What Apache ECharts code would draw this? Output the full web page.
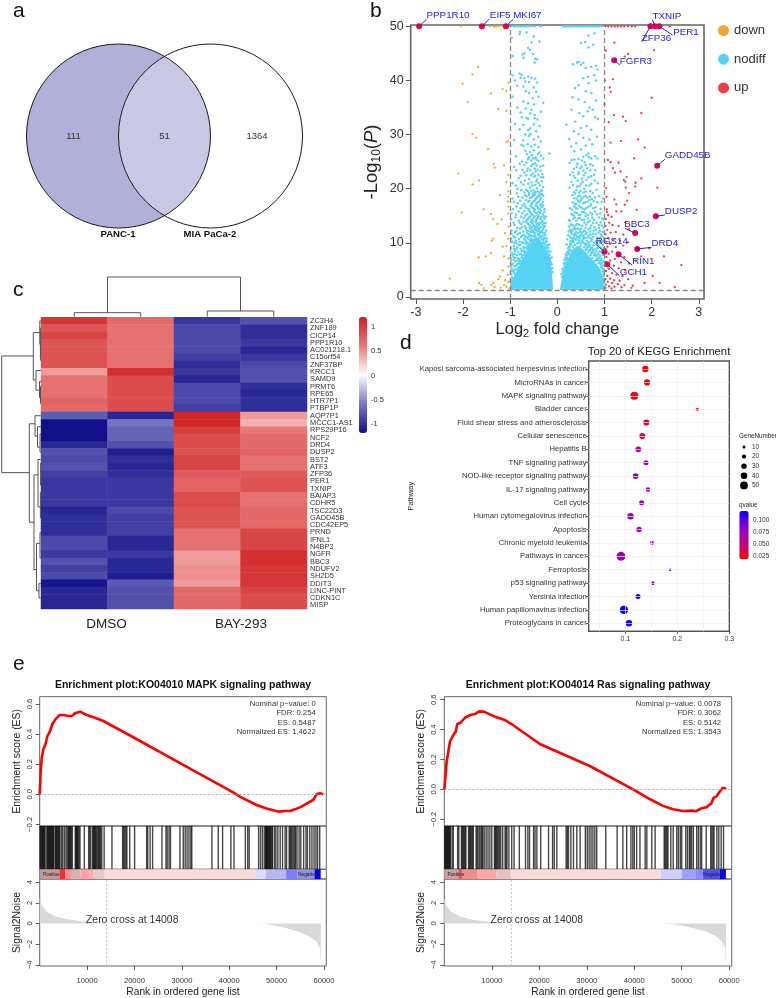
<!DOCTYPE html>
<html><head><meta charset="utf-8">
<style>html,body{margin:0;padding:0;background:#fff}#c{width:776px;height:998px}</style>
<script src="https://cdn.jsdelivr.net/npm/echarts@6/dist/echarts.min.js"></script>
</head><body><div id="c"></div>
<script>
// ---------- panel a
const vennSets=['PANC-1','MIA PaCa-2'];
const vennCounts=[111,51,1364];
// ---------- panel b
const downPoints=[[-2.05,50],[-1.43,50],[-1.35,50],[-1.3,50],[-1.25,50],[-1.15,50],[-1.68,42.5],[-1.8,41.1],[-2.01,39.4],[-1.04,39.6],[-1.16,38.4],[-1.08,38],[-1.41,37.6],[-1.9,36],[-1.25,34.7],[-1.08,34.4],[-1.8,30.1],[-1.72,29.4],[-1.04,28.8],[-1.08,28.6],[-1.47,27.3],[-1.35,24.6],[-1.33,23.9],[-1.13,24.3],[-2.1,22.8],[-1.66,21.5],[-1.8,20.8],[-1.04,22.5],[-1.08,21.2],[-1.04,19.5],[-1.22,18.8],[-1.04,18.5],[-1.05,17.6],[-1.04,16.7],[-1.56,16.2],[-2.03,15.6],[-1.41,15.3],[-1.36,14.4],[-1.04,15.4],[-1.18,14.3],[-1.27,13.5],[-1.04,13],[-1.11,11.8],[-1.36,10.8],[-1.39,10.4],[-1.04,10.8],[-1.16,9.3],[-1.08,9.4],[-1.41,8.1],[-1.52,7.5],[-1.67,7.3],[-1.13,7.5],[-1.04,7.1],[-1.16,4.9],[-1.22,3.8],[-1.04,5.6],[-2.28,3.4],[-1.25,3.3],[-1.36,2.6],[-1.66,2.6],[-1.61,2.2],[-1.4,2.2],[-1.33,1.8],[-1.13,2.2],[-1.08,1.9],[-1.56,1.6],[-1.04,2.8],[-1.11,3.1],[-1.02,1.6],[-1.2,1.7],[-1.05,4.1]];
const upPoints=[[1.02,50],[1.08,50],[1.15,50],[1.22,50],[1.28,50],[1.35,50],[1.42,50],[1.5,50],[1.58,50],[1.65,50],[2.38,50],[1.21,47],[1.03,45.5],[1.5,44.9],[1.43,44.4],[2.05,45.6],[1.01,40],[1.18,40.2],[1.11,38.7],[1.13,37.9],[2,36.8],[1,35.6],[1.2,33.6],[1.39,33.3],[1.78,34],[1.45,32.5],[1.09,32.3],[1.71,29.1],[1.13,28.5],[1.35,28.8],[1.85,27.6],[1.63,25.6],[1.07,25.3],[1.13,24.9],[1.3,24.8],[1.18,23.8],[1.22,23],[1.34,23.2],[1.47,22.2],[1.41,21.6],[1.44,21.3],[1.78,21.9],[1.66,21.1],[1.65,20.4],[2.12,20.2],[1.45,20.2],[1.03,20.1],[1.04,18.5],[1.52,19.2],[1.21,18],[1.48,17.8],[1.43,17],[1.05,16.2],[1.25,17.1],[1.08,15.1],[1.68,16.1],[1.15,14.8],[1.25,15.8],[1.36,15.8],[1.05,15.7],[1.03,14.4],[1.1,13.7],[1.02,13.1],[1.17,13.3],[1.3,13.1],[1.44,13.8],[1.06,12.4],[1.13,11.9],[1.02,11.6],[1.24,12],[1.4,11.5],[1.52,12.6],[1.08,10.9],[1.19,10.6],[1.03,10.2],[1.33,10.4],[1.5,10.1],[1.12,9.8],[1.06,9.3],[1.24,9.2],[1.4,9.5],[1.02,8.9],[1.16,8.4],[1.09,8],[1.42,7.4],[1.04,7.4],[1.22,7],[1.12,6.7],[1.35,6.4],[1.52,6.2],[1.02,6.5],[1.2,5.8],[1.09,5.2],[1.3,5.3],[1.44,4.9],[1.03,4.8],[1.16,4.4],[1.25,4.1],[1.38,3.9],[1.06,3.9],[1.12,3.4],[1.02,3.3],[1.2,3.1],[1.32,3],[1.5,3.3],[1.07,2.8],[1.16,2.6],[1.28,2.4],[1.42,2.2],[1.03,2.3],[1.1,2],[1.21,1.9],[1.36,1.8],[1.02,1.7],[1.15,1.6],[1.6,2.1],[1.57,1.7],[1.78,7.5],[1.95,9],[2.26,7.5],[2.63,5.9],[2.02,3.9],[2.17,2.6],[2.49,1.8],[1.66,6.7],[1.85,2.6]];
const nodiffTop=[[-.98,50],[-.92,50],[-.87,50],[-.82,50],[-.76,50],[-.71,50],[-.66,50],[-.6,50],[-.55,50],[-.48,50],[-.36,50],[.13,50],[.16,50],[.2,50],[.25,50],[.3,50],[.35,50],[.41,50],[.46,50],[.5,50],[.54,50],[.58,50],[.62,50],[.66,50],[.7,50],[.74,50],[.78,50],[.82,50],[.86,50],[.9,50],[.95,50],
[-.79,49],[-.65,48.9],[-.5,48.1],[-.97,47.9],[-.8,48.6],[-.38,47.2],[-.55,47],[-.62,46],[-.58,45.6],[-.7,45],[-.74,44.8],[-.52,44.9],[-.95,44.5],[-.72,44.2],[-.47,44],[-.43,43.9],[-.48,43.3],
[-.8,41.3],[-.76,41],[-.62,40.7],[-.95,40.9],[-.78,40.5],[-.7,40.4],[-.55,40.5],[-.47,40.3],[-.9,40],[-.68,39.8],[-.6,39.7],[-.43,39.6],[-.85,39],[-.72,38.9],[-.5,38.7],[-.67,38],[-.6,37.7],[-.45,37.9],[-.95,37],[-.52,36.7],[-.4,37],[-.72,36.1],[-.62,35.8],[-.5,35.6],[-.3,35.9],[-.85,35],[-.67,34.8],[-.55,34.6],[-.78,34.1],[-.58,33.9],[-.48,33.6],[-.35,34.2],[-.75,33.2],[-.65,33.1],[-.62,32.9],[-.48,33],[-.42,32.8],[-.9,32],[-.72,31.8],[-.5,31.9],[-.38,31.6],[-.8,31],[-.62,30.8],[-.58,31.1],[-.45,30.6],[-.68,30],[-.6,29.8],[-.57,30.1],[-.4,29.6],[-.92,29],[-.72,28.9],[-.5,29.1],[-.35,28.7],[-.76,28.1],[-.72,27.9],[-.63,28.2],[-.55,27.8],[-.48,28.1],[-.4,27.7],[-.68,27],[-.58,26.8],[-.5,27.1],[-.38,26.7],[-.17,26.5],[-.88,26],[-.6,25.8],[-.54,26.2],[-.46,25.7],[-.35,26.1],[-.3,25.6],[-.75,25],[-.66,24.8],[-.55,25.2],[-.47,24.7],[-.4,25.1],[-.92,24],[-.62,23.8],[-.56,24.2],[-.48,23.7],[-.36,24.1],[-.7,23],[-.52,22.8],[-.46,23.2],[-.32,22.7],[-.82,22],[-.6,21.8],[-.5,22.2],[-.43,21.7],[-.3,22.1],[-.95,21],[-.72,20.8],[-.55,21.2],[-.47,20.7],[-.4,21.1],[-.85,20],[-.66,19.8],[-.58,20.2],[-.5,19.7],[-.43,20.1],[-.35,19.6],[-.3,20.3],
[.79,48.7],[.66,48.3],[.59,47.1],[.5,46.9],[.76,46.6],[.66,46.1],[.45,43.4],[.42,43.3],[.55,43.2],[.33,43],[.5,42.9],[.6,42.3],[.72,42.5],[.82,42.7],[.85,42],[.78,41],[.65,40.7],[.55,40.4],[.82,40],[.66,39.5],[.45,39.1],[.38,38.6],[.6,38],[.72,37.7],[.32,36.9],[.45,36.5],[.58,36],[.82,36.3],[.68,35],[.64,34.3],[.75,34.6],[.47,34],[.3,34.6],[.55,33.4],[.8,33.2],[.86,32.9],[.19,31.8],[.38,32.4],[.5,31.2],[.62,31.6],[.72,30.9],[.45,30.1],[.35,30.6],[.55,29.4],[.25,29.2],[.68,29.1],[.84,29.6],[.4,28.4],[.6,28],[.29,27.8],[.74,28.2],[.5,27.3],[.36,26.9],[.62,26.2],[.55,25.9],[.67,25.8],[.72,25.6],[.45,25.5],[.3,25.3],[.85,25.6],[.58,24.9],[.42,24.6],[.7,24.5],[.26,24.8],[.52,24.1],[.35,23.7],[.63,23.8],[.8,23.4],[.46,23],[.27,22.6],[.56,22.5],[.72,22.3],[.38,22],[.62,21.6],[.3,21.3],[.5,20.9],[.86,21],[.42,20.4],[.68,20.6],[.26,20.2],[.57,20]];
const nodiffMid=[[-.98,4.2],[-.93,4.6],[-.88,3.9],[-.97,5.3],[-.91,5.7],[-.86,5.1],[-.95,6.2],[-.89,6.6],[-.84,6.1],[-.8,6.9],[-.99,7.1],[-.93,7.4],[-.86,7.7],[-.76,7.3],[-.71,7.8],[-.97,8.2],[-.9,8.5],[-.83,8.3],[-.74,8.6],[-.69,8.2],[-.98,9.1],[-.92,9.4],[-.85,9.2],[-.79,9.6],[-.72,9.3],[-.67,9.8],[-.62,9.4],[-.96,10.2],[-.88,10.4],[-.81,10.7],[-.75,10.1],[-.68,10.5],[-.63,10.9],[-.58,10.3],[-.93,11.2],[-.84,11.6],[-.77,11.1],[-.71,11.5],[-.66,11.2],[-.6,11.6],[-.56,11.3],[-.51,11.9],[-.38,11.7],[-.33,11.2],[-.28,10.9],[-.25,10.1],[-.22,9.4],[-.19,8.6],[-.17,7.7],[-.16,6.9],[-.14,6.3],[-.2,7.4],
[-.97,12.3],[-.87,12.2],[-.79,12.6],[-.72,12.1],[-.67,12.7],[-.61,12.2],[-.56,12.5],[-.52,12.2],[-.47,12.7],[-.43,12.3],[-.39,12.6],[-.34,12.2],[-.3,12.5],[-.27,11.8],[-.91,13.3],[-.76,13.5],[-.69,13.1],[-.63,13.6],[-.58,13.2],[-.53,13.6],[-.49,13.1],[-.44,13.5],[-.4,13.2],[-.36,13.7],[-.31,13.3],[-.27,13.1],[-.98,14.3],[-.82,14.1],[-.71,14.6],[-.65,14.2],[-.6,14.7],[-.55,14.3],[-.5,14.6],[-.45,14.2],[-.41,14.7],[-.36,14.4],[-.32,14.1],[-.27,14.5],[-.88,15.2],[-.74,15.5],[-.64,15.3],[-.58,15.7],[-.53,15.2],[-.47,15.6],[-.42,15.1],[-.37,15.5],[-.31,15.3],[-.94,16.2],[-.78,16.4],[-.68,16.7],[-.6,16.2],[-.54,16.6],[-.48,16.2],[-.43,16.7],[-.38,16.3],[-.33,16.6],[-.27,16.2],[-.84,17.3],[-.7,17.2],[-.62,17.6],[-.55,17.2],[-.5,17.7],[-.44,17.3],[-.39,17.6],[-.34,17.2],[-.95,18.2],[-.74,18.4],[-.65,18.6],[-.57,18.3],[-.51,18.7],[-.45,18.2],[-.4,18.6],[-.35,18.3],[-.3,18.7],[-.86,19.1],[-.7,19.3],[-.6,19.2],[-.52,19.1],[-.46,19.4],[-.38,19.1],
[.13,4.9],[.16,6.1],[.19,6.9],[.24,8],[.27,8.7],[.29,9.7],[.34,10.1],[.38,10.6],[.3,10.9],[.27,9.9],[.23,9],[.21,7.7],[.46,10.4],[.5,9.9],[.58,9.8],[.62,8.9],[.67,8.6],[.72,8.1],[.78,7.7],[.82,6.8],[.88,6.3],[.92,6],[.96,5.2],[.98,6.6],[.93,7.1],[.85,7.6],[.97,7.8],[.9,8.4],[.8,8.8],[.74,9.1],[.98,9],[.87,9.5],[.68,9.7],[.78,10],[.95,10.3],[.62,10.4],[.55,10.7],[.7,10.9],[.85,11],[.44,11.1],[.35,11.4],[.27,11.1],[.5,11.5],[.6,11.6],[.75,11.7],[.92,11.6],[.4,12],[.32,12.3],[.24,12.1],[.47,12.4],[.56,12.2],[.66,12.5],[.82,12.4],[.98,12.8],[.37,13],[.29,13.4],[.43,13.5],[.53,13.1],[.61,13.4],[.72,13.2],[.88,13.3],[.25,14.2],[.34,14.4],[.4,14.1],[.48,14.6],[.57,14.3],[.65,14.5],[.78,14.2],[.95,14.5],[.3,15.3],[.37,15.6],[.45,15.2],[.52,15.7],[.6,15.4],[.7,15.6],[.84,15.3],[.27,16.4],[.36,16.7],[.42,16.3],[.5,16.6],[.58,16.2],[.66,16.7],[.76,16.4],[.92,16.3],[.33,17.5],[.4,17.2],[.47,17.6],[.55,17.3],[.64,17.6],[.71,17.2],[.85,17.5],[.36,18.2],[.44,18.6],[.38,19.1],[.52,18.3],[.6,18.7],[.46,19.3],[.69,18.5],[.8,18.4],[.32,18.8],[.4,19.7],[.56,19.3],[.75,19.2],[.98,18.2],
[-.99,2.9],[.98,4.3],[.95,3.7],[-.95,3.3]];
const nodiffFringe=[[-.96,3.6],[-.92,3.2],[-.9,4.3],[-.85,4.4],[-.83,4.9],[-.94,4.9],[-.9,5.1],[-.82,5.5],[-.87,5.8],[-.78,5.9],[-.75,6.4],[-.82,6.5],[-.78,6.7],[-.72,6.8],[-.7,7.2],[-.75,7.6],[-.66,7.9],[-.8,7.9],[-.68,8.5],[-.64,8.9],[-.71,9],[-.6,9.1],[-.58,9.7],[-.65,10.1],[-.54,10.5],[-.61,10.7],[-.52,11.2],[-.48,11.5],[-.92,8.9],[-.87,8.8],[-.78,8.9],[-.95,7.8],[-.89,7.2],[-.83,7.1],[-.77,8],[-.98,6.7],[-.93,6.9],[-.97,5.9],[-.99,4.8],[-.87,9.9],[-.91,10],[-.8,10.2],[-.72,10],[-.98,10.8],[-.9,11],[-.74,11.3],[-.68,11.1],[-.8,11.8],[-.9,11.9],[-.97,11.7],[-.64,11.8],[-.56,12],[-.47,11.9],
[-.36,11.2],[-.3,10.5],[-.27,9.7],[-.24,9],[-.21,8.2],[-.18,7.9],[-.16,7.2],[-.15,6.5],[-.12,6],[-.11,5.3],[-.1,4.6],[-.42,12.1],[-.38,12.3],[-.32,11.9],[-.29,11.5],[-.26,10.8],[-.23,10.3],[-.21,9.6],[-.19,9.1],
[-.85,12.8],[-.75,12.9],[-.65,12.3],[-.59,12.8],[-.54,12.9],[-.5,12.4],[-.45,13],[-.41,12.8],[-.35,12.9],[-.29,12.9],[-.24,12.3],[-.93,13.7],[-.8,13.7],[-.72,13.9],[-.66,13.9],[-.61,13.4],[-.56,13.9],[-.51,13.3],[-.46,13.9],[-.42,13.6],[-.38,13.4],[-.33,13.8],[-.29,13.7],[-.25,13.6],[-.89,14.7],[-.77,14.8],[-.68,15],[-.62,14.4],[-.57,14.9],[-.52,14.1],[-.48,14.9],[-.43,14.5],[-.39,14.9],[-.34,14.8],[-.29,14.9],[-.24,14.8],[-.97,15.5],[-.82,15.8],[-.7,15.9],[-.61,15.9],[-.56,15.4],[-.5,15.9],[-.45,15.5],[-.4,15.8],[-.35,15.9],[-.28,15.7],[-.87,16.7],[-.74,16.9],[-.65,16.4],[-.57,16.9],[-.51,16.4],[-.46,16.9],[-.41,16.4],[-.36,16.9],[-.3,16.9],[-.92,17.6],[-.79,17.8],[-.67,17.9],[-.59,17.8],[-.53,17.4],[-.47,17.9],[-.42,17.5],[-.37,17.9],[-.31,17.6],[-.83,18.5],[-.69,18.8],[-.6,18.9],[-.54,18.5],[-.48,18.9],[-.43,18.4],[-.37,18.8],[-.33,19],[-.77,19.7],[-.63,19.6],[-.55,19.6],[-.49,19.2],[-.41,19.5],[-.33,19.7],
[-.88,20.6],[-.77,21.2],[-.69,21.5],[-.62,20.9],[-.53,20.6],[-.45,21.4],[-.37,20.6],[-.33,21.4],[-.78,22.4],[-.66,22.5],[-.56,22.5],[-.47,22.4],[-.4,22.6],[-.35,22.1],[-.87,23.4],[-.74,23.5],[-.64,23.3],[-.57,23.4],[-.42,23.5],[-.35,23.3],[-.8,24.6],[-.7,24.4],[-.52,24.5],[-.44,24.3],[-.3,24.3],[-.62,25.5],[-.44,25.4],[-.51,25.6],[-.41,26.4],[-.64,26.4],
[.09,4.2],[.11,5.2],[.14,6.2],[.17,7.3],[.2,8.2],[.25,9.2],[.31,10.3],[.36,10.9],[.42,11.1],[.47,10.8],[.52,10.4],[.56,10],[.6,9.6],[.64,9.2],[.69,8.7],[.73,8.4],[.77,8.2],[.8,7.6],[.84,7.1],[.87,6.8],[.91,6.6],[.94,6.3],[.97,5.8],[.99,5.1],[.93,5.5],[.96,4.7],[.99,3.9],[.96,3.3],[.91,7.6],[.87,8],[.83,8.4],[.94,8.2],[.99,8.3],[.85,9],[.92,9.1],[.76,9.5],[.7,9.3],[.66,10.1],[.72,10.3],[.82,10.3],[.89,10.4],[.99,10.9],[.58,10.9],[.64,11],[.76,11.1],[.9,10.9],[.94,11.2],[.28,10.3],[.33,10.8],[.4,11.4],[.47,11.2],[.54,11.3],[.66,11.3],[.7,11.5],[.81,11.6],[.87,11.9],[.3,11.7],[.37,11.7],[.44,11.8],[.52,11.9],[.58,12.2],[.62,11.9],[.7,12.1],[.77,12.3],[.9,12.2],[.96,12],[.27,12.4],[.35,12.6],[.43,12.7],[.5,12.6],[.6,12.8],[.7,12.8],[.79,12.9],[.88,12.8],[.94,13.2],[.25,13],[.33,13.3],[.4,13.4],[.47,13.3],[.57,13.7],[.65,13.8],[.76,13.6],[.83,13.7],[.92,13.8],[.27,14],[.37,14.7],[.44,14.5],[.52,14.2],[.6,14.9],[.69,14.1],[.74,14.7],[.88,14.7],[.98,14.2],[.34,15.1],[.41,15.5],[.49,15.2],[.56,15.7],[.65,15.2],[.74,15.3],[.8,15.8],[.91,15.4],[.31,16.1],[.39,16.5],[.46,16.8],[.54,16.3],[.62,16.5],[.71,16.9],[.81,16.6],[.37,17.2],[.44,17.8],[.5,17.9],[.59,17.5],[.68,17.9],[.77,17.7],[.94,17.6],[.41,18.2],[.48,18.7],[.56,18.5],[.64,18.4],[.73,18.1],[.88,18.6],[.35,19.4],[.49,19.6],[.6,19.5],[.7,19.6],[.83,19.8],
[.33,20.7],[.47,20.5],[.54,21.3],[.61,20.6],[.72,20.9],[.8,21.5],[.43,21.5],[.35,22.4],[.52,21.9],[.66,22.1],[.44,22.7],[.6,22.9],[.78,22.6],[.32,23],[.55,23.3],[.7,23.4],[.41,24],[.48,23.8],[.6,24.4],[.75,24.3],[.52,25.2],[.36,25.4],[.8,26],[.66,26.5]];
const nodiffEdge=[[-.94,3],[-.89,3.7],[-.86,4.2],[-.8,5.2],[-.76,5.6],[-.79,6.2],[-.73,6.1],[-.69,6.7],[-.66,7.4],[-.63,8.1],[-.61,8.6],[-.57,9.2],[-.55,9.9],[-.5,10.6],[-.47,11.1],[-.41,11.6],[-.38,10.9],[-.33,10.7],[-.3,10],[-.27,9.2],[-.24,8.5],[-.21,7.8],[-.18,7.1],[-.15,5.9],[-.84,6.9],[-.74,7.1],[-.69,7.6],[-.71,8.4],[-.66,9.2],[-.62,9.9],[-.56,10.7],[-.59,11.2],[-.45,12.4],[-.41,11.4],[-.37,11.8],[-.33,12.2],[-.26,11.4],[-.22,10.8],[-.17,9.7],[-.15,8.4],[-.12,7.3],[-.91,8],[-.82,9.6],[-.76,8.5],[-.7,10.7],
[.96,2.9],[.93,3.9],[.89,4.9],[.86,5.5],[.82,6],[.78,6.6],[.74,7.2],[.7,7.7],[.65,8.2],[.6,8.7],[.57,9.2],[.49,9.4],[.42,9.9],[.37,9.6],[.33,9.3],[.29,8.5],[.25,8.1],[.21,7.2],[.18,6.4],[.15,5.6],[.12,4.6],[.1,3.7],[.94,6.9],[.88,7.2],[.81,7.9],[.76,8.7],[.71,8.9],[.66,9.4],[.62,9.9],[.54,10.2],[.46,10],[.41,10.6],[.33,10.4],[.26,9.4],[.23,8.5],[.18,7.8],[.15,6.9],[.97,9.6],[.91,10],[.84,9.9],[.73,10.6],[.56,11.1],[.49,12],[.38,12.5],[.29,12],[.23,11.4],[.21,10.6],[.2,9.7]];
const nodiffDenseLeft=[[-1,1.3],[-.09,1.3],[-.12,5.2],[-.23,8.3],[-.33,10.2],[-.44,11.2],[-.55,10.2],[-.65,8.4],[-.83,5.2],[-.97,2.9],[-1,2.4]];
const nodiffDenseRight=[[.05,1.3],[1,1.3],[1,2.9],[.9,5.2],[.725,7],[.54,8.8],[.43,9.5],[.33,8.8],[.22,7],[.144,5.2],[.09,3.1]];
const geneNames=['PPP1R10','EIF5','MKI67','TXNIP','ZFP36','PER1','FGFR3','GADD45B','DUSP2','BBC3','RGS14','DRD4','RIN1','GCH1'];
const geneLog2FC=[-2.93,-1.6,-1.09,2.07,1.975,2.16,1.205,2.117,2.088,1.65,1,1.693,1.297,1.057];
const geneLogP=[50,50,50,50,50,50,43.72,24.26,14.9,11.82,8.37,8.87,7.88,6.03];
// ---------- panel c
const heatGenes=['ZC3H4','ZNF189','CICP14','PPP1R10','AC021218.1','C15orf54','ZNF37BP','KRCC1','SAMD9','PRMT6','RPE65','HTR7P1','PTBP1P','AQP7P1','MCCC1-AS1','RPS29P16','NCF2','DRD4','DUSP2','BST2','ATF3','ZFP36','PER1','TXNIP','BAIAP3','CDHR5','TSC22D3','GADD45B','CDC42EP5','PRND','IFNL1','N4BP3','NGFR','BBC3','NDUFV2','SH2D5','DDIT3','LINC-PINT','CDKN1C','MISP'];
const heatSamples=['DMSO-1','DMSO-2','BAY-1','BAY-2'];
const heatValues=[[1.05,.7,-.95,-.8],[.85,.65,-.85,-1],[.95,.65,-.85,-1],[.85,.65,-.85,-.95],[.85,.65,-.85,-1.05],[.85,.65,-.9,-.95],[.85,.65,-1,-.85],[.45,1.1,-.95,-.8],[.65,.9,-1.05,-.8],[.65,.9,-.85,-1],[.65,.9,-.85,-1.05],[.75,.9,-.85,-1],[.7,.9,-.9,-1],[-.75,-1.05,1.15,.45],[-1.2,-.6,1.15,.35],[-1.2,-.7,1,.6],[-1.2,-.7,.9,.7],[-1.05,-.8,.9,.7],[-.8,-1.1,.85,.75],[-.85,-1,.95,.65],[-.8,-1.05,.95,.65],[-.9,-1,.8,.8],[-.95,-.95,.75,.85],[-.95,-.95,.75,.85],[-.95,-.95,.9,.65],[-.95,-.95,.9,.65],[-1.05,-.85,.85,.7],[-1,-.9,.85,.7],[-1,-.9,.85,.7],[-1,-.9,.65,.95],[-.85,-1.05,.65,.95],[-.85,-1.05,.65,.95],[-.95,-.95,.45,1.1],[-.8,-1.05,.45,1.1],[-.9,-1.05,.5,1.05],[-.85,-1.1,.5,1.05],[-1.15,-.75,.45,1.05],[-1.05,-.8,.7,.95],[-1.05,-.8,.7,.9],[-1.05,-.8,.7,.9]];
// merges: [height, branch a, branch b, height of a's child, height of b's child]
const colMerges=[[40,1,3,4.3,6],[4.3,.5,1.5,.3,.3],[6,2.5,3.5,.3,.3]];
const rowMerges=[[39.3,5.3,21.3,7.7,11.7],[7.7,2.1,8.6,1.2,5],[1.2,.5,3.7,.1,.6],[.6,1.5,5.9,.1,.3],[.3,3,5.5,.1,.1],[5,7.3,10,.1,1.5],[1.5,8.8,11,.1,.5],[.5,9.5,11.8,.1,.1],[11.7,14.6,28.1,6,7],[6,13.5,16.3,.2,3.5],[3.5,15,17.8,.2,1],[1,16,18.5,.1,.1],[7,21.6,34.6,3,4.5],[3,19.5,26,.4,.6],[.6,24,27.5,.1,.1],[.4,20,23,.1,.1],[4.5,31,37.5,1,2],[2,36.5,38.5,.2,.2],[1,29.5,33,.2,.2]];
// ---------- panel d
const pathways=['Kaposi sarcoma-associated herpesvirus infection','MicroRNAs in cancer','MAPK signaling pathway','Bladder cancer','Fluid shear stress and atherosclerosis','Cellular senescence','Hepatitis B','TNF signaling pathway','NOD-like receptor signaling pathway','IL-17 signaling pathway','Cell cycle','Human cytomegalovirus infection','Apoptosis','Chronic myeloid leukemia','Pathways in cancer','Ferroptosis','p53 signaling pathway','Yersinia infection','Human papillomavirus infection','Proteoglycans in cancer'];
const richFactor=[.1385,.1417,.1173,.2385,.1404,.1327,.125,.1397,.1199,.1436,.1314,.11,.1263,.1513,.0917,.1859,.1526,.1244,.0974,.107];
const geneNumber=[39,37,52,10,35,35,33,27,33,22,27,39,31,18,60,6,18,27,52,39];
const qValue=[.018,.02,.02,.02,.03,.035,.065,.07,.07,.07,.07,.075,.07,.08,.075,.085,.09,.115,.12,.12];
const geneLegend=[10,20,30,40,50];
// ---------- panel e
const mapkTitle='Enrichment plot:KO04010 MAPK signaling pathway';
const rasTitle='Enrichment plot:KO04014 Ras signaling pathway';
const mapkStats=['Nominal p\u2212value: 0','FDR: 0.254','ES: 0.5487','Normalized ES: 1.4622'];
const rasStats=['Nominal p\u2212value: 0.0078','FDR: 0.3062','ES: 0.5142','Normalized ES: 1.3543'];
const mapkES=[[0,0],[140,.117],[420,.239],[770,.3],[1270,.339],[1620,.387],[2180,.42],[2670,.467],[3230,.494],[4150,.527],[4990,.527],[6050,.52],[6750,.52],[7450,.538],[8510,.549],[9910,.527],[11670,.509],[13430,.487],[19750,.379],[30300,.195],[40840,.013],[42250,-.015],[45770,-.071],[47880,-.095],[50330,-.115],[51740,-.111],[52800,-.111],[53850,-.1],[55260,-.082],[56660,-.055],[57720,-.038],[58420,0],[59120,.007],[59830,0]];
const rasES=[[0,0],[210,.073],[490,.185],[840,.25],[1190,.32],[1890,.363],[2380,.385],[2730,.437],[3430,.446],[4350,.479],[5400,.497],[6450,.504],[7360,.522],[8340,.52],[9600,.502],[11000,.482],[12760,.464],[14160,.437],[20120,.303],[30630,.156],[39750,0],[43250,-.065],[46060,-.111],[48160,-.134],[50260,-.145],[52370,-.143],[52930,-.147],[54120,-.127],[55170,-.12],[56220,-.094],[56710,-.056],[57270,-.049],[57970,-.016],[58670,.011],[59380,.004]];
const mapkHits=[100,250,400,550,700,850,1000,1150,1500,1650,1800,1950,2100,2250,2400,2550,2700,2850,3000,3300,3450,3600,3750,3950,4100,4250,4570,4850,5200,5550,5800,6050,6200,6350,6500,6700,6900,7500,7650,7800,7950,8100,8300,8500,9420,10330,10550,10800,11180,11350,11500,11650,11800,12000,12250,12450,12650,12850,13100,13600,15250,17500,17700,17950,18200,18400,19000,20030,22570,22800,23300,23830,25800,26650,26900,27300,27600,29600,30300,30700,31100,31500,31900,32100,36350,37680,38600,40350,41000,43400,43900,44200,46200,46600,47000,47400,47700,47750,47900,48050,48200,48350,48500,48650,48800,49000,49150,49560,49850,50260,50750,51250,51800,52100,52650,52850,53050,53250,53500,53800,54000,54300,54750,55100,55700,56200,56500,57000,57450,57900,58300,58650,59100];
const rasHits=[100,250,400,550,700,850,1000,1150,1300,1650,1900,2800,3050,3600,3800,4000,4200,4400,4550,5100,5300,5500,5700,5950,6100,6700,6900,7100,7400,7700,7900,8100,8400,8800,9200,9600,10000,10550,10750,10950,11150,11400,11650,11900,12300,12800,13000,13200,13600,14200,14700,15800,17100,17600,17950,18800,19100,19500,20300,21950,22800,23150,23700,25650,25900,26150,26650,27200,27900,28600,29700,30100,30500,30900,31300,31700,32100,34000,36400,37600,38400,39300,39700,40000,40500,41200,42300,42650,43700,44400,46300,46500,46700,46900,47100,47700,48200,48950,49300,49700,50000,50850,51200,51600,51800,52100,52450,53150,53500,53900,54200,55150,56100,56350,56600,56800,57400,57800,58300,58800];
const mapkStripEnds=[0,4200,5400,6600,8600,10500,11300,13700,45600,47700,52000,54400,58000,59300];
const rasStripEnds=[0,3000,3700,7000,11000,14000,45600,50000,53000,54500,58000,59300];
const mapkS2N=[[0,2.53],[420,1.77],[1480,1.16],[3230,.7],[5700,.4],[9200,.18],[12700,.06],[14008,0],[45770,0],[47880,-.06],[51400,-.37],[54900,-.82],[57000,-1.28],[58420,-1.74],[59120,-2.35],[59330,-4]];
const rasS2N=[[0,2.4],[420,1.7],[1480,1.12],[3230,.68],[5700,.38],[9200,.17],[12700,.05],[14008,0],[45770,0],[47880,-.06],[51400,-.35],[54900,-.75],[57000,-1.2],[58420,-1.7],[59120,-2.3],[59330,-4]];
const zeroCross=14008;

// ========= layout and styles =========
const FONT='"Liberation Sans",Arial,sans-serif';
const mapkStripColours=['#c09a9a','#f03030','#f89090','#d8b0b0','#ffa0a8','#f0b0b0','#e8c8c8','#ffdcdc','#dcdcff','#b8b8f0','#8080ff','#9090e0','#0000f0'];
const rasStripColours=['#c8a0a0','#e85050','#e89090','#f8a8a8','#e8c0c0','#ffdcdc','#d0d0ff','#a0a0ff','#8888ff','#5050e0','#0000f0'];
const geneLabelLayout={ // leader end and text start, in data units
PPP1R10:[-2.774,51.3,-2.774,52],EIF5:[-1.445,51.3,-1.431,52],MKI67:[-.936,51.3,-.936,52],TXNIP:[2.018,51.17,2.018,51.8],ZFP36:[1.79,47.17,1.79,47.8],PER1:[2.44,48.4,2.456,48.95],FGFR3:[1.325,42.86,1.325,43.47],GADD45B:[2.28,25.43,2.28,26.1],DUSP2:[2.28,15.15,2.28,15.83],BBC3:[1.43,12.68,1.417,13.42],RGS14:[.816,9.73,.816,10.34],DRD4:[1.996,9.17,1.996,9.85],RIN1:[1.587,5.91,1.587,6.53],GCH1:[1.31,4,1.325,4.56]};

const grids=[],xAxes=[],yAxes=[],series=[],graphic=[],visualMaps=[];
const noZeroLine=(o)=>Object.assign({show:false,onZero:false},o||{});
function addGrid(g,x,y){grids.push(Object.assign({containLabel:false},g));const i=grids.length-1;
  xAxes.push(Object.assign({gridIndex:i,type:'value',show:false,axisLine:noZeroLine()},x));
  yAxes.push(Object.assign({gridIndex:i,type:'value',show:false,axisLine:noZeroLine()},y));return i;}
function addSeries(s,g){series.push(Object.assign({animation:false,silent:true,xAxisIndex:g,yAxisIndex:g},s));return series.length-1;}
function txt(x,y,text,size,o){o=o||{};graphic.push({type:'text',x:x,y:y,z:100,rotation:o.rot||0,silent:true,style:{text:text,font:(o.bold?'bold ':'')+size+'px '+FONT,fill:o.color||'#222',textAlign:o.align||'left',textVerticalAlign:'middle'}});}

// panel letters
[['a',13,11],['b',370,11],['c',13,290],['d',400,343],['e',13,664]].forEach(a=>txt(a[1],a[2],a[0],21,{color:'#111'}));

// ---- a: Venn
(function(){
 const g=addGrid({left:0,top:0,width:380,height:270},{min:0,max:380},{min:0,max:270,inverse:true});
 const cA=[118.5,136],cB=[210.5,136],r=92;
 addSeries({type:'custom',data:[[0]],renderItem:function(p,api){
  const a=api.coord(cA),b=api.coord(cB),R=api.size([r,0])[0],mx=(a[0]+b[0])/2,h=Math.sqrt(R*R-(b[0]-a[0])*(b[0]-a[0])/4);
  return {type:'group',children:[
   {type:'circle',shape:{cx:a[0],cy:a[1],r:R},style:{fill:'#b0b0d8',stroke:null}},
   {type:'circle',shape:{cx:b[0],cy:b[1],r:R},style:{fill:'#ffffff',stroke:null}},
   {type:'path',shape:{pathData:`M${mx},${a[1]-h}A${R},${R} 0 0 1 ${mx},${a[1]+h}A${R},${R} 0 0 1 ${mx},${a[1]-h}Z`,x:mx-(R-(b[0]-a[0])/2),y:a[1]-h,width:2*(R-(b[0]-a[0])/2),height:2*h,layout:'cover'},style:{fill:'#c8c8e4',stroke:null}},
   {type:'circle',shape:{cx:a[0],cy:a[1],r:R},style:{fill:'none',stroke:'#1a1a1a',lineWidth:1}},
   {type:'circle',shape:{cx:b[0],cy:b[1],r:R},style:{fill:'none',stroke:'#1a1a1a',lineWidth:1}}]};
 }},g);
 txt(73.5,136,String(vennCounts[0]),9.5,{align:'center',color:'#333'});
 txt(164.5,136,String(vennCounts[1]),9.5,{align:'center',color:'#333'});
 txt(257,136,String(vennCounts[2]),9.5,{align:'center',color:'#333'});
 txt(118,234,vennSets[0],9.6,{align:'center',bold:true,color:'#111'});
 txt(210,234,vennSets[1],9.6,{align:'center',bold:true,color:'#111'});
})();

// ---- b: volcano
(function(){
 const tick={show:true,length:5,lineStyle:{color:'#555',width:1}};
 const g=addGrid({left:410.7,top:25,width:293.3,height:274,show:true,borderColor:'#666',borderWidth:1.6,backgroundColor:'#fff'},
 {show:true,min:-3.11,max:3.11,splitLine:{show:false},axisTick:Object.assign({customValues:[-3,-2,-1,0,1,2,3]},tick),
  axisLabel:{customValues:[-3,-2,-1,0,1,2,3],fontFamily:FONT,fontSize:12.5,color:'#333',margin:7},
  name:'{a|Log}{s|2}{a| fold change}',nameLocation:'middle',nameGap:21,nameTextStyle:{rich:{a:{fontSize:16.5,fontFamily:FONT,color:'#222'},s:{fontSize:11,fontFamily:FONT,color:'#222',padding:[8,0,0,0]}}}},
 {show:true,min:-.37,max:50.24,splitLine:{show:false},axisTick:Object.assign({customValues:[0,10,20,30,40,50]},tick),
  axisLabel:{customValues:[0,10,20,30,40,50],fontFamily:FONT,fontSize:12.5,color:'#333',margin:7},
  name:'{a|-Log}{s|10}{a|(}{i|P}{a|)}',nameLocation:'middle',nameGap:28,nameTextStyle:{rich:{a:{fontSize:18.5,fontFamily:FONT,color:'#222'},i:{fontSize:18.5,fontFamily:FONT,fontStyle:'italic',color:'#222'},s:{fontSize:12,fontFamily:FONT,color:'#222',padding:[9,0,0,0]}}}});
 const blue='#56d2f5';
 addSeries({name:'nodiff',type:'custom',data:[[0]],itemStyle:{color:blue},renderItem:function(p,api){
  return {type:'group',children:[nodiffDenseLeft,nodiffDenseRight].map(poly=>({type:'polygon',shape:{points:poly.map(q=>api.coord(q))},style:{fill:blue,stroke:null}}))};}},g);
 addSeries({name:'nodiff',type:'scatter',symbolSize:2.5,itemStyle:{color:blue,opacity:1},data:nodiffTop.concat(nodiffMid,nodiffFringe,nodiffEdge)},g);
 addSeries({name:'down',type:'scatter',symbolSize:2.3,itemStyle:{color:'#f0a830',opacity:1},data:downPoints},g);
 addSeries({name:'up',type:'scatter',symbolSize:2.3,itemStyle:{color:'#f23c46',opacity:1},data:upPoints},g);
 addSeries({type:'scatter',symbolSize:0,data:[],z:3,markLine:{silent:true,symbol:'none',animation:false,label:{show:false},lineStyle:{color:'#888',type:[5,3],width:1.3},data:[{xAxis:-1},{xAxis:1},{yAxis:1.3}]}},g);
 addSeries({type:'scatter',z:4,symbolSize:6,itemStyle:{color:'#e6004c',opacity:1},data:geneNames.map((n,i)=>[geneLog2FC[i],geneLogP[i]])},g);
 addSeries({type:'custom',z:5,data:geneNames.map((n,i)=>[geneLog2FC[i],geneLogP[i]].concat(geneLabelLayout[n])),renderItem:function(p,api){
  const a=api.coord([api.value(0),api.value(1)]),b=api.coord([api.value(2),api.value(3)]),c=api.coord([api.value(4),api.value(5)]);
  return {type:'group',children:[{type:'line',shape:{x1:a[0],y1:a[1],x2:b[0],y2:b[1]},style:{stroke:'#2020e0',lineWidth:1}},
   {type:'text',x:c[0],y:c[1],style:{text:geneNames[p.dataIndex],font:'9.8px '+FONT,fill:'#2222e8',textAlign:'left',textVerticalAlign:'middle'}}]};}},g);
})();

// ---- c: heatmap
(function(){
 const g=addGrid({left:41,top:317.3,width:266,height:291.7},{type:'category',show:true,data:heatSamples,axisTick:{show:false},axisLabel:{show:false},splitLine:{show:false}},
 {type:'category',show:true,position:'right',inverse:true,data:heatGenes,axisTick:{show:false},splitLine:{show:false},axisLabel:{interval:0,fontFamily:FONT,fontSize:7.4,color:'#333',margin:3}});
 const cells=[];heatValues.forEach((row,r)=>row.forEach((v,c)=>cells.push([c,r,v])));
 const si=addSeries({type:'heatmap',data:cells,itemStyle:{borderWidth:0}},g);
 visualMaps.push({type:'continuous',seriesIndex:si,dimension:2,min:-1.18,max:1.2,left:359,top:317,padding:0,itemWidth:8,itemHeight:116,showLabel:false,text:null,calculable:false,hoverLink:false,inRange:{color:['#10108a','#7878c0','#ffffff','#e87878','#cd2020']}});
 addGrid({left:367,top:317,width:1,height:116},{min:0,max:1},{show:true,position:'right',min:-1.18,max:1.2,axisTick:{show:false},splitLine:{show:false},axisLabel:{customValues:[-1,-.5,0,.5,1],fontFamily:FONT,fontSize:7.5,color:'#333',margin:3}});
 const dr=function(horizontal){return function(p,api){
  const h=api.value(0),a=api.value(1),b=api.value(2),h1=api.value(3),h2=api.value(4);
  const pt=horizontal?(u,v)=>api.coord([v,u]):(u,v)=>api.coord([u,v]);
  return {type:'polyline',shape:{points:[pt(a,h1),pt(a,h),pt(b,h),pt(b,h2)]},style:{stroke:'#555',lineWidth:1,fill:null}};};};
 const gc=addGrid({left:41,top:275,width:266,height:42},{min:0,max:4},{min:0,max:42});
 addSeries({type:'custom',data:colMerges,renderItem:dr(false)},gc);
 const gr=addGrid({left:0,top:317.3,width:41,height:291.7},{min:0,max:41,inverse:true},{min:0,max:40,inverse:true});
 addSeries({type:'custom',data:rowMerges,renderItem:dr(true)},gr);
 txt(106.5,624,'DMSO',13.5,{align:'center'});
 txt(241,624,'BAY-293',13.5,{align:'center'});
})();

// ---- d: KEGG bubble
(function(){
 const sz=n=>1.8+.12*n;
 const idx=pathways.map((n,i)=>i);
 const g=addGrid({left:588.7,top:361,width:140.6,height:270.3,show:true,borderColor:'#555',borderWidth:1.4,backgroundColor:'#fff'},
 {show:true,min:.0296,max:.3,splitLine:{show:false},axisTick:{customValues:[.1,.2,.3],length:2.5,lineStyle:{color:'#555'}},axisLabel:{customValues:[.1,.2,.3],fontFamily:FONT,fontSize:7,color:'#333',margin:4}},
 {show:true,inverse:true,min:-.6,max:19.6,splitLine:{show:false},axisTick:{customValues:idx,length:2.5,lineStyle:{color:'#555'}},
  axisLabel:{customValues:idx,interval:0,fontFamily:FONT,fontSize:7.7,color:'#333',margin:2,formatter:v=>pathways[v]},
  name:'Pathway',nameLocation:'middle',nameGap:174,nameTextStyle:{fontFamily:FONT,fontSize:7.5,color:'#222'}});
 addSeries({type:'scatter',data:[],z:1,markLine:{silent:true,symbol:'none',animation:false,label:{show:false},lineStyle:{color:'#f0f0f0',type:'solid',width:.7},
  data:[.05,.1,.15,.2,.25].map(v=>({xAxis:v})).concat(idx.map(v=>({yAxis:v})))}},g);
 const si=addSeries({type:'scatter',z:3,data:pathways.map((n,i)=>[richFactor[i],i,qValue[i],geneNumber[i]]),symbolSize:v=>sz(v[3]),itemStyle:{opacity:1}},g);
 visualMaps.push({type:'continuous',seriesIndex:si,dimension:2,min:.0173,max:.1207,left:739.3,top:511,padding:0,itemWidth:9.4,itemHeight:48.3,showLabel:false,text:null,calculable:false,hoverLink:false,inRange:{color:['#ff0000','#d1006c','#a900ad','#7300d8','#0000ff']}});
 txt(659,351.7,'Top 20 of KEGG Enrichment',11.3,{align:'center'});
 txt(739,436.7,'GeneNumber',6.3,{});
 txt(739,505.7,'qvalue',6.3,{});
 const gl=addGrid({left:739,top:442.2,width:10,height:48},{type:'category',data:['n'],show:false},{type:'category',show:true,position:'right',inverse:true,data:geneLegend.map(String),axisTick:{show:false},splitLine:{show:false},axisLabel:{fontFamily:FONT,fontSize:6.5,color:'#333',margin:3,interval:0}});
 addSeries({type:'scatter',data:geneLegend.map((v,i)=>[0,i]),symbolSize:(v,p)=>sz(geneLegend[p.dataIndex]),itemStyle:{color:'#000',opacity:1}},gl);
 addGrid({left:749,top:511,width:1,height:48.3},{min:0,max:1},{show:true,position:'right',min:.0173,max:.1207,axisTick:{show:false},splitLine:{show:false},axisLabel:{customValues:[.025,.05,.075,.1],fontFamily:FONT,fontSize:6.5,color:'#333',margin:3,formatter:v=>v.toFixed(3)}});
})();

// ---- e: GSEA
function gsea(o){
 const tickStyle={length:4,lineStyle:{color:'#333',width:.8}};
 const rotLabel=(vals,fmt)=>({customValues:vals,rotate:90,fontFamily:FONT,fontSize:7.6,color:'#333',margin:6,formatter:v=>fmt(v).replace('-','\u2212')});
 const es=addGrid({left:o.left,top:696.7,width:o.width,height:129.3,show:true,borderColor:'#666',borderWidth:1},{min:0,max:o.xMax},
  {show:true,min:o.esMin,max:o.esMax,splitLine:{show:false},axisTick:Object.assign({customValues:[-.2,0,.2,.4,.6]},tickStyle),axisLabel:rotLabel([-.2,0,.2,.4,.6],v=>v.toFixed(1)),
   name:'Enrichment score (ES)',nameLocation:'middle',nameGap:18,nameTextStyle:{fontFamily:FONT,fontSize:10.4,color:'#222'}});
 addSeries({type:'line',data:o.es,symbol:'none',lineStyle:{color:'#ff0000',width:2.6},z:3,
  markLine:{silent:true,symbol:'none',animation:false,label:{show:false},lineStyle:{color:'#999',type:[2,2],width:.8},data:[{yAxis:0}]}},es);
 const hits=addGrid({left:o.left,top:826,width:o.width,height:43.3,show:true,borderColor:'#666',borderWidth:1},{min:0,max:o.xMax},{min:0,max:1});
 addSeries({type:'custom',data:o.hits.map(h=>[h]),renderItem:function(p,api){const a=api.coord([api.value(0),0]),b=api.coord([api.value(0),1]);
  return {type:'line',shape:{x1:a[0],y1:a[1],x2:b[0],y2:b[1]},style:{stroke:'rgba(0,0,0,.72)',lineWidth:1.4}};}},hits);
 const st=addGrid({left:o.left,top:869.3,width:o.width,height:9.7,show:true,borderColor:'#666',borderWidth:1},{min:0,max:o.xMax},{min:0,max:1});
 addSeries({type:'custom',data:o.stripEnds.slice(1).map((e,i)=>[o.stripEnds[i],e]),renderItem:function(p,api){const a=api.coord([api.value(0),1]),b=api.coord([api.value(1),0]);
  return {type:'rect',shape:{x:a[0],y:a[1],width:b[0]-a[0],height:b[1]-a[1]},style:{fill:o.stripColours[p.dataIndex],stroke:null}};}},st);
 const vals=[4,2,0,-2,-4];
 const sn=addGrid({left:o.left,top:879,width:o.width,height:92,show:true,borderColor:'#666',borderWidth:1},
  {show:true,min:0,max:o.xMax,splitLine:{show:false},axisTick:Object.assign({customValues:[10000,20000,30000,40000,50000,60000]},tickStyle),
   axisLabel:{customValues:[10000,20000,30000,40000,50000,60000],fontFamily:FONT,fontSize:7.6,color:'#333',margin:11,formatter:v=>String(v)},name:'Rank in ordered gene list',nameLocation:'middle',nameGap:21,nameTextStyle:{fontFamily:FONT,fontSize:10.2,color:'#222'}},
  {show:true,min:-4.12,max:4.3,splitLine:{show:false},axisTick:Object.assign({customValues:vals},tickStyle),axisLabel:rotLabel(vals,v=>String(v)),name:'Signal2Noise',nameLocation:'middle',nameGap:18,nameTextStyle:{fontFamily:FONT,fontSize:10.4,color:'#222'}});
 addSeries({type:'line',data:o.s2n,symbol:'none',lineStyle:{width:0},itemStyle:{color:'#d9d9d9'},areaStyle:{color:'#d9d9d9',opacity:1,origin:0},
  markLine:{silent:true,symbol:'none',animation:false,label:{show:false},lineStyle:{color:'#c8c8c8',type:[2,2],width:1},data:[{xAxis:zeroCross}]}},sn);
 txt(o.center,684.7,o.title,10.5,{bold:true,align:'center',color:'#111'});
 o.stats.forEach((s,i)=>txt(o.statsRight,[704,713.3,722.7,732][i],s,7.7,{align:'right',color:'#333'}));
 txt(o.left+46.3,920,'Zero cross at '+zeroCross,10.4,{color:'#333'});
 txt(o.left+3.2,874.6,'Positive',4.8,{color:'#222'});
 txt(o.negX,874.6,'Negative',4.8,{color:'#222'});
}
gsea({left:39.7,width:286.6,xMax:60485,esMin:-.2107,esMax:.6485,es:mapkES,hits:mapkHits,stripEnds:mapkStripEnds,stripColours:mapkStripColours,s2n:mapkS2N,title:mapkTitle,center:183,stats:mapkStats,statsRight:315.7,negX:298});
gsea({left:444.3,width:287.4,xMax:60520,esMin:-.2456,esMax:.62,es:rasES,hits:rasHits,stripEnds:rasStripEnds,stripColours:rasStripColours,s2n:rasS2N,title:rasTitle,center:588,stats:rasStats,statsRight:721,negX:703});

const chart=echarts.init(document.getElementById('c'),null,{renderer:'canvas',width:776,height:998});
chart.setOption({animation:false,backgroundColor:'#fff',textStyle:{fontFamily:FONT},
 grid:grids,xAxis:xAxes,yAxis:yAxes,series:series,visualMap:visualMaps,graphic:graphic,
 legend:{orient:'vertical',left:718,top:24,padding:0,itemWidth:11,itemHeight:11,itemGap:15.7,icon:'circle',selectedMode:false,textStyle:{fontFamily:FONT,fontSize:13,color:'#333'},
  data:[{name:'down',itemStyle:{color:'#f0a830'}},{name:'nodiff',itemStyle:{color:'#56d2f5'}},{name:'up',itemStyle:{color:'#f23c46'}}]}});
</script></body></html>
